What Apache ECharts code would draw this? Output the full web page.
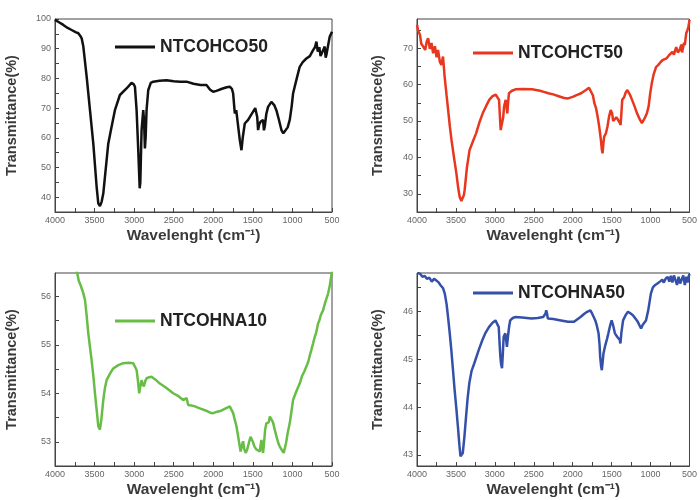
<!DOCTYPE html>
<html><head><meta charset="utf-8">
<script src="https://cdn.jsdelivr.net/npm/echarts@6/dist/echarts.min.js"></script>
<style>html,body{margin:0;padding:0;background:#fff}#c{width:700px;height:500px}</style>
</head><body><div id="c"></div>
<script>
// ---- data: [wavenumber (cm-1), transmittance (%)] ----
const seriesNames = ['NTCOHCO50', 'NTCOHCT50', 'NTCOHNA10', 'NTCOHNA50'];
const xTickLabels = [4000, 3500, 3000, 2500, 2000, 1500, 1000, 500];
const xTicks = [4000,3750,3500,3250,3000,2750,2500,2250,2000,1750,1500,1250,1000,750,500];

const co50 = [[4000,99.7],[3950,98.9],[3895,98],[3840,97],[3790,96.3],[3740,95.6],[3705,95.2],[3680,94.3],[3663,93.5],[3642,90.7],[3600,80.6],[3558,69.3],[3516,58],[3474,43.5],[3453,37.9],[3432,37],[3410,38.5],[3390,41.2],[3327,58],[3290,63],[3243,69.3],[3180,74.4],[3096,76.6],[3033,78.5],[3005,78],[2990,77.2],[2969,69.3],[2948,55.8],[2930,43],[2922,45],[2906,62.6],[2885,69.3],[2875,66],[2864,56.4],[2855,60],[2843,69.3],[2822,76],[2790,78.5],[2759,78.9],[2680,79.2],[2591,79.4],[2500,79],[2420,78.9],[2338,78.9],[2250,78.2],[2160,77.8],[2086,77.8],[2040,76.2],[2002,75.5],[1960,75.8],[1890,76.5],[1830,77],[1792,77.2],[1765,76.5],[1749,74.9],[1728,68.2],[1710,69.3],[1686,68.8],[1665,59.2],[1644,55.8],[1628,60],[1602,64.8],[1560,66],[1520,67.8],[1497,68.2],[1470,70],[1455,70.4],[1445,67],[1434,62.6],[1420,64.5],[1400,65.5],[1371,66],[1360,62.5],[1350,63.7],[1330,68],[1308,70.4],[1266,72.1],[1230,71],[1203,69.3],[1170,66],[1139,62.6],[1115,61.5],[1097,62.1],[1060,63.5],[1034,66],[1010,70.5],[992,74.9],[950,79.5],[908,83.9],[870,85.5],[824,86.7],[780,87.5],[739,89.5],[715,90.5],[697,92.4],[680,89],[660,90.5],[645,87.5],[634,87.9],[612,89.5],[592,90.7],[580,87],[571,87.9],[550,91],[529,94],[515,93.5],[500,95.7]];

const ct50 = [[4000,76.4],[3985,74.8],[3962,73.7],[3945,71.2],[3920,70.4],[3895,69.5],[3875,71.8],[3857,72.7],[3835,69.8],[3814,71.4],[3793,68.6],[3770,70.5],[3748,67.5],[3730,69.5],[3706,66.2],[3687,65.4],[3666,67.7],[3645,62.2],[3620,57],[3600,53],[3578,48.5],[3557,44.8],[3525,40],[3494,35.6],[3470,31.5],[3452,29.2],[3430,28],[3418,28.3],[3400,29.5],[3388,31],[3360,37],[3325,42],[3280,44.5],[3241,46.6],[3200,49.5],[3156,52.1],[3110,54.2],[3072,55.8],[3030,56.8],[2988,57.2],[2965,57],[2946,55.8],[2932,50],[2925,47.5],[2904,47.5],[2893,51],[2882,53.9],[2861,55.8],[2848,53.5],[2840,52.1],[2830,55],[2819,57.6],[2780,58.3],[2735,58.7],[2640,58.8],[2524,58.7],[2420,58.3],[2370,58],[2313,57.6],[2250,57.3],[2180,56.8],[2110,56.3],[2060,56.2],[2000,56.6],[1950,57.1],[1891,57.6],[1830,58.5],[1790,59.1],[1765,59.3],[1740,57],[1722,54.9],[1700,53.5],[1680,51.2],[1660,48.5],[1638,44.8],[1625,42],[1617,41.1],[1605,44],[1596,45.7],[1575,46.5],[1554,48.4],[1535,51],[1512,53],[1495,52.2],[1480,50],[1469,50.3],[1440,51],[1420,50.4],[1406,50.7],[1395,49.5],[1385,48.9],[1375,52],[1364,55.8],[1340,56.5],[1320,57.8],[1301,58.5],[1280,57.8],[1260,57],[1238,55.8],[1205,54],[1174,52.1],[1140,50.5],[1111,49.4],[1090,50.2],[1070,51],[1047,52.1],[1025,54],[1005,57.5],[984,60.4],[960,62.8],[930,64.8],[900,65.4],[870,66.2],[840,66.8],[820,66.3],[794,67.2],[765,68],[740,67.5],[720,69],[700,68.2],[689,69.1],[670,70.3],[650,68.8],[626,69.5],[605,71],[595,68.8],[584,70],[570,71.5],[560,70.8],[542,74.1],[525,75],[515,75.8],[505,77],[500,77.8]];

const na10 = [[3760,56.7],[3735,56.55],[3718,56.47],[3700,56.32],[3684,56.26],[3660,56.15],[3640,56.05],[3621,55.92],[3600,55.6],[3579,55.23],[3560,54.98],[3537,54.68],[3515,54.35],[3495,54],[3470,53.6],[3453,53.32],[3432,53.25],[3415,53.45],[3390,53.86],[3370,54.1],[3348,54.27],[3300,54.42],[3264,54.51],[3200,54.58],[3138,54.62],[3070,54.63],[3011,54.62],[2990,54.58],[2969,54.48],[2955,54.3],[2936,54],[2925,54.12],[2906,54.27],[2895,54.2],[2877,54.14],[2860,54.25],[2843,54.31],[2810,54.33],[2780,54.34],[2730,54.28],[2675,54.2],[2600,54.12],[2507,54],[2440,53.94],[2380,53.86],[2355,53.88],[2338,53.9],[2325,53.82],[2317,53.76],[2250,53.74],[2170,53.69],[2090,53.64],[2040,53.6],[2002,53.59],[1950,53.62],[1900,53.64],[1876,53.66],[1830,53.7],[1792,53.73],[1770,53.7],[1749,53.59],[1728,53.45],[1707,53.32],[1685,53.1],[1665,52.9],[1655,52.8],[1644,52.8],[1635,52.95],[1623,53.01],[1610,52.85],[1589,52.77],[1570,52.85],[1550,52.98],[1530,53.1],[1518,53.08],[1500,53],[1480,52.9],[1455,52.84],[1430,52.82],[1413,52.8],[1400,52.95],[1392,53.04],[1380,52.85],[1371,52.77],[1360,52.95],[1345,53.25],[1329,53.38],[1300,53.4],[1285,53.52],[1266,53.49],[1245,53.4],[1224,53.25],[1200,53.1],[1180,52.98],[1160,52.9],[1130,52.82],[1110,52.77],[1097,52.77],[1080,52.98],[1060,53.18],[1034,53.38],[1010,53.65],[992,53.86],[960,54],[930,54.12],[908,54.2],[880,54.35],[850,54.45],[824,54.55],[800,54.65],[780,54.78],[760,54.9],[739,55.03],[720,55.15],[700,55.25],[676,55.44],[660,55.5],[640,55.62],[613,55.71],[590,55.85],[570,55.95],[550,56.05],[530,56.2],[515,56.35],[505,56.47],[500,56.55]];

const na50 = [[3990,46.8],[3958,46.78],[3930,46.72],[3900,46.74],[3874,46.68],[3840,46.7],[3810,46.62],[3780,46.68],[3748,46.64],[3720,46.6],[3700,46.55],[3685,46.58],[3665,46.48],[3643,46.37],[3620,46.15],[3601,45.88],[3580,45.55],[3559,45.19],[3538,44.78],[3517,44.36],[3495,43.98],[3475,43.6],[3455,43.2],[3441,42.97],[3425,42.95],[3412,43.04],[3390,43.4],[3370,43.8],[3350,44.18],[3328,44.5],[3300,44.75],[3265,44.91],[3210,45.18],[3160,45.4],[3120,45.55],[3076,45.67],[3030,45.76],[2992,45.81],[2970,45.78],[2950,45.67],[2940,45.35],[2929,45.05],[2920,44.9],[2908,44.81],[2898,45.1],[2887,45.47],[2866,45.54],[2855,45.4],[2845,45.26],[2830,45.5],[2815,45.7],[2803,45.81],[2770,45.86],[2740,45.88],[2650,45.87],[2530,45.85],[2450,45.86],[2380,45.88],[2361,45.88],[2350,45.95],[2340,46.02],[2330,45.95],[2319,45.85],[2250,45.84],[2151,45.81],[2060,45.78],[1983,45.78],[1900,45.88],[1850,45.95],[1815,45.99],[1773,46.02],[1750,45.95],[1730,45.88],[1710,45.81],[1690,45.7],[1668,45.54],[1655,45.3],[1647,45.05],[1635,44.85],[1626,44.77],[1615,44.95],[1605,45.12],[1580,45.3],[1560,45.42],[1542,45.54],[1520,45.7],[1500,45.81],[1480,45.7],[1458,45.54],[1440,45.5],[1429,45.47],[1410,45.45],[1395,45.4],[1387,45.33],[1375,45.55],[1353,45.81],[1320,45.92],[1290,45.99],[1260,45.96],[1227,45.92],[1195,45.85],[1164,45.78],[1140,45.7],[1122,45.64],[1100,45.72],[1080,45.76],[1059,45.81],[1030,46.02],[996,46.37],[970,46.5],[940,46.55],[912,46.58],[880,46.62],[850,46.66],[830,46.6],[807,46.68],[780,46.72],[760,46.62],[740,46.74],[720,46.6],[700,46.75],[681,46.71],[660,46.55],[640,46.72],[620,46.58],[597,46.61],[580,46.75],[560,46.55],[540,46.72],[525,46.6],[513,46.71],[500,46.78]];

const yRanges = [[35, 100], [25, 78], [52.5, 56.48], [42.77, 46.8]];
const yTickLabels = [
  [40, 50, 60, 70, 80, 90, 100],
  [30, 40, 50, 60, 70],
  [53, 54, 55, 56],
  [43, 44, 45, 46]
];
const yTicks = [
  [40,45,50,55,60,65,70,75,80,85,90,95,100],
  [30,35,40,45,50,55,60,65,70,75],
  [53,53.5,54,54.5,55,55.5,56],
  [43,43.5,44,44.5,45,45.5,46,46.5]
];
const colors = ['#111111', '#e8361f', '#68bd46', '#3550a8'];
const seriesData = [co50, ct50, na10, na50];

// ---- layout ----
const grids = [
  {left: 55, top: 19, width: 277, height: 193},
  {left: 417, top: 19, width: 276, height: 193},
  {left: 55, top: 273, width: 277, height: 193},
  {left: 417, top: 273, width: 277, height: 193}
];
const legendPos = [[115, 38], [473, 44], [115, 312], [473, 284]];
const yNameGap = [36, 32, 36, 32];

const titleFont = "'Liberation Sans', Arial, sans-serif";
const axisCol = '#444';

const option = {
  animation: false,
  backgroundColor: '#fff',
  grid: grids.map(g => Object.assign({show: true, borderColor: axisCol, borderWidth: 1, containLabel: false}, g)),
  legend: seriesNames.map((n, i) => ({
    data: [n], left: legendPos[i][0], top: legendPos[i][1], padding: 0,
    icon: 'rect', itemWidth: 40, itemHeight: 3, itemGap: 5,
    textStyle: {fontFamily: titleFont, fontWeight: 'bold', fontSize: 17.5, color: '#222'}
  })),
  xAxis: grids.map((g, i) => ({
    type: 'value', gridIndex: i, inverse: true, min: 500, max: 4000,
    name: 'Wavelenght (cm\u207B\u00B9)', nameLocation: 'middle', nameGap: 16,
    nameTextStyle: {fontFamily: titleFont, fontWeight: 'bold', fontSize: 15.5, color: '#3a3a3a', verticalAlign: 'top'},
    axisLine: {show: true, lineStyle: {color: axisCol, width: 1}},
    axisTick: {show: true, inside: true, length: 4, customValues: xTicks, lineStyle: {color: axisCol}},
    axisLabel: {customValues: xTickLabels, formatter: v => String(v), margin: 4, fontSize: 9, color: '#666', fontFamily: titleFont},
    splitLine: {show: false}
  })),
  yAxis: grids.map((g, i) => ({
    type: 'value', gridIndex: i, min: yRanges[i][0], max: yRanges[i][1],
    name: 'Transmittance(%)', nameLocation: 'middle', nameGap: yNameGap[i],
    nameTextStyle: {fontFamily: titleFont, fontWeight: 'bold', fontSize: 14.5, color: '#3a3a3a'},
    axisLine: {show: true, lineStyle: {color: axisCol, width: 1}},
    axisTick: {show: true, inside: true, length: 4, customValues: yTicks[i], lineStyle: {color: axisCol}},
    axisLabel: {customValues: yTickLabels[i], formatter: v => String(v), margin: 4, fontSize: 9, color: '#666', fontFamily: titleFont},
    splitLine: {show: false}
  })),
  series: seriesData.map((d, i) => ({
    name: seriesNames[i], type: 'line', xAxisIndex: i, yAxisIndex: i,
    data: d, showSymbol: false, symbol: 'none', clip: true,
    lineStyle: {color: colors[i], width: 2.5}, itemStyle: {color: colors[i]}
  }))
};
const chart = echarts.init(document.getElementById('c'), null, {renderer: 'canvas'});
chart.setOption(option);
</script></body></html>
